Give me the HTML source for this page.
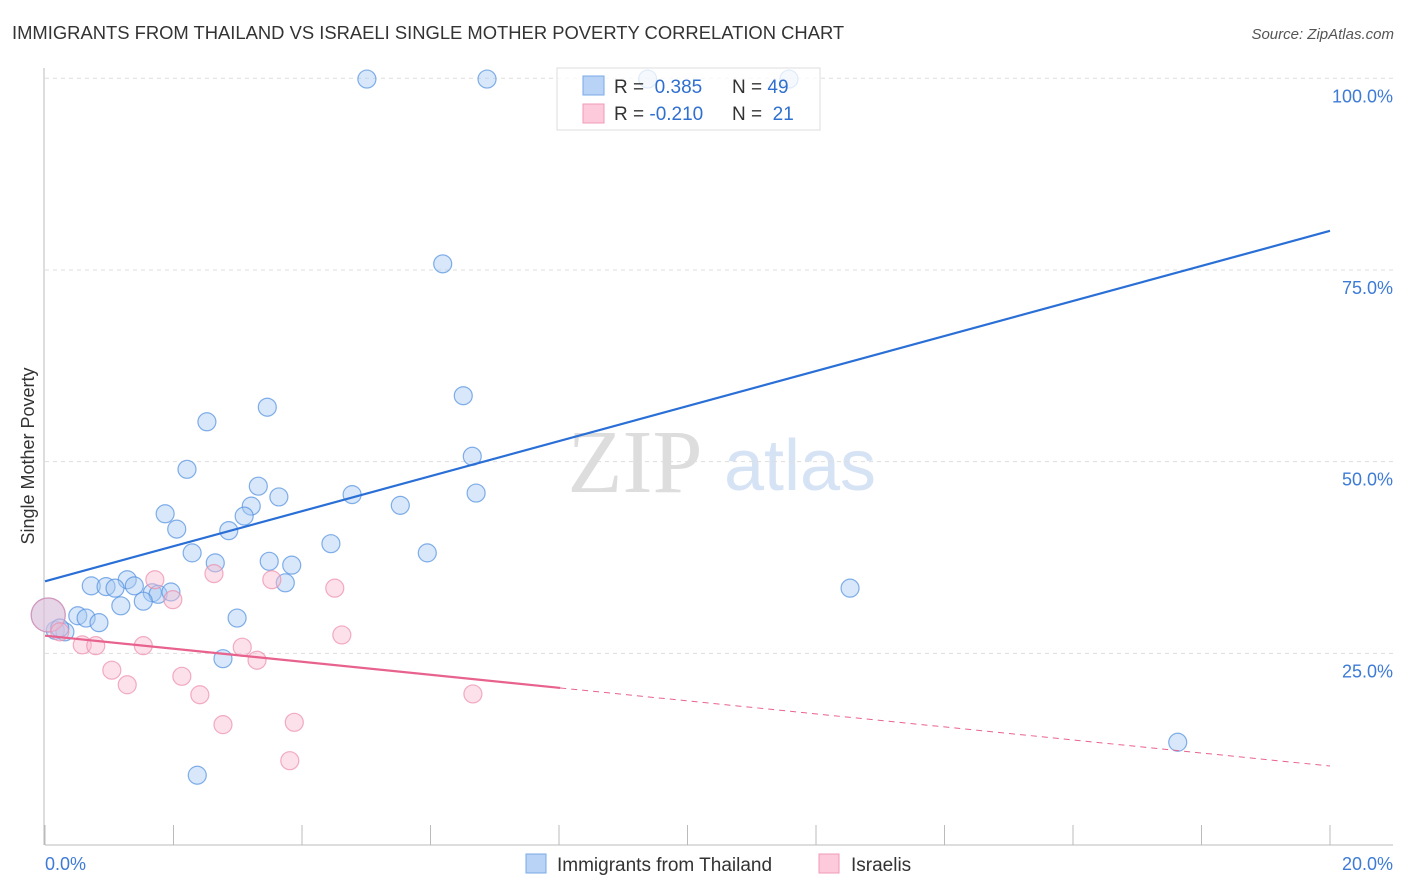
<!DOCTYPE html>
<html><head><meta charset="utf-8"><style>
body{margin:0;background:#fff;font-family:"Liberation Sans",sans-serif}
</style></head><body>
<svg id="chart" width="1406" height="892" style="display:block">
<text x="12" y="39" font-size="18.4" fill="#333">IMMIGRANTS FROM THAILAND VS ISRAELI SINGLE MOTHER POVERTY CORRELATION CHART</text>
<text x="1394" y="39" font-size="15" fill="#555" font-style="italic" text-anchor="end">Source: ZipAtlas.com</text>
<text x="0" y="0" transform="translate(34,456) rotate(-90)" font-size="18" fill="#333" text-anchor="middle">Single Mother Poverty</text>
<text x="635" y="492" font-size="90" fill="#ddd" font-family="Liberation Serif,serif" text-anchor="middle">ZIP</text>
<text x="800" y="490" font-size="72" fill="#d6e3f5" text-anchor="middle">atlas</text>
<g id="grid"></g><g id="marks"></g>
<g>
<rect x="557" y="68" width="263" height="62" fill="#fff" fill-opacity="0.75" stroke="#ddd"/>
<rect x="583" y="76" width="21" height="19" fill="#b8d3f5" stroke="#7aaae8"/>
<rect x="583" y="104" width="21" height="19" fill="#fccada" stroke="#f09ab6"/>
<text x="614" y="93" font-size="19" fill="#333">R = <tspan fill="#2f6fd0">&#160;0.385</tspan><tspan x="732">N = </tspan><tspan fill="#2f6fd0">49</tspan></text>
<text x="614" y="120" font-size="19" fill="#333">R = <tspan fill="#2f6fd0">-0.210</tspan><tspan x="732">N = </tspan><tspan fill="#2f6fd0">&#160;21</tspan></text>
</g>
<g>
<rect x="526" y="854" width="20" height="19" fill="#b8d3f5" stroke="#7aaae8"/>
<text x="557" y="871" font-size="19" fill="#333">Immigrants from Thailand</text>
<rect x="819" y="854" width="20" height="19" fill="#fccada" stroke="#f09ab6"/>
<text x="851" y="871" font-size="19" fill="#333">Israelis</text>
</g>
</svg>
<script>
const xTicks=[0,20];
const yTicks=[25,50,75,100];
const blueX=[5.01,6.88,9.38,11.58,6.19,6.51,3.46,2.52,6.65,2.21,3.32,6.71,3.64,4.78,3.21,5.53,1.87,3.10,2.05,2.86,4.45,2.29,5.95,3.49,2.65,3.84,12.53,0.72,0.95,1.28,1.39,1.09,1.67,1.76,1.96,3.74,1.53,1.18,2.99,0.51,0.64,0.84,0.16,0.31,2.77,2.37,17.63,0.05,0.23];
const blueY=[99.9,99.9,99.9,99.9,75.8,58.6,57.1,55.2,50.7,49.0,46.8,45.9,45.4,45.7,44.2,44.3,43.2,42.9,41.2,41.0,39.3,38.1,38.1,37.0,36.8,36.5,33.5,33.8,33.7,34.6,33.8,33.5,32.9,32.7,33.0,34.2,31.8,31.2,29.6,29.9,29.6,29.0,28.0,27.8,24.3,9.1,13.4,30.0,28.3];
const pinkX=[0.05,1.71,2.63,1.99,3.53,4.51,4.62,0.58,0.79,1.53,3.07,3.30,1.04,2.13,1.28,2.41,6.66,2.77,3.88,3.81,0.23];
const pinkY=[30.0,34.6,35.4,32.0,34.6,33.5,27.4,26.1,26.0,26.0,25.8,24.1,22.8,22.0,20.9,19.6,19.7,15.7,16.0,11.0,27.8];
const blueTrend=[34.4,80.1];
const pinkTrend=[27.3,10.3];
const pinkSolidEnd=8.02;
const NS='http://www.w3.org/2000/svg';
const sx=v=>45+v/20*1285, sy=v=>845-v/100*766.7;
const grid=document.getElementById('grid'), marks=document.getElementById('marks');
function mk(p,tag,a){const e=document.createElementNS(NS,tag);for(const k in a)e.setAttribute(k,a[k]);p.appendChild(e);return e;}
let e=mk(grid,'line',{x1:44,y1:68,x2:44,y2:845,stroke:'#bbb'});


e=mk(grid,'line',{x1:45,y1:845,x2:1393,y2:845,stroke:'#bbb'});


for(let i=0;i<=10;i++){const x=sx(i*2);e=mk(grid,'line',{x1:x,y1:825,x2:x,y2:845,stroke:'#bbb'});

}
yTicks.forEach(t=>{e=mk(grid,'line',{x1:45,y1:sy(t),x2:1393,y2:sy(t),stroke:'#ddd','stroke-dasharray':'4,4'});


e=mk(grid,'text',{x:1393,y:sy(t)+24,'font-size':18,fill:'#3d7bd6','text-anchor':'end'});e.textContent=t.toFixed(1)+'%';

});
xTicks.forEach((t,i)=>{e=mk(grid,'text',{x:i?1393:45,y:870,'font-size':18,fill:'#3d7bd6','text-anchor':i?'end':'start'});e.textContent=t.toFixed(1)+'%';

});
function dots(X,Y,bigIdx,fill,stroke,name){X.forEach((x,i)=>{const big=i===bigIdx;e=mk(marks,'circle',{cx:sx(x),cy:sy(Y[i]),r:big?17:9,fill:fill,'fill-opacity':0.45,stroke:stroke,'stroke-opacity':0.7,'stroke-width':1.2});

});}
dots(blueX,blueY,47,'#a9c9f2','#4f8ee0','blue-point');
dots(pinkX,pinkY,0,'#f9bcd0','#ec8cab','pink-point');
e=mk(marks,'line',{x1:sx(0),y1:sy(blueTrend[0]),x2:sx(20),y2:sy(blueTrend[1]),stroke:'#2a6fd6','stroke-width':2.2});


const py=x=>pinkTrend[0]+(pinkTrend[1]-pinkTrend[0])*x/20;
e=mk(marks,'line',{x1:sx(0),y1:sy(py(0)),x2:sx(pinkSolidEnd),y2:sy(py(pinkSolidEnd)),stroke:'#e8628e','stroke-width':2.2});


e=mk(marks,'line',{x1:sx(pinkSolidEnd),y1:sy(py(pinkSolidEnd)),x2:sx(20),y2:sy(py(20)),stroke:'#e8628e','stroke-width':1,'stroke-dasharray':'6,5'});


</script>
</body></html>
